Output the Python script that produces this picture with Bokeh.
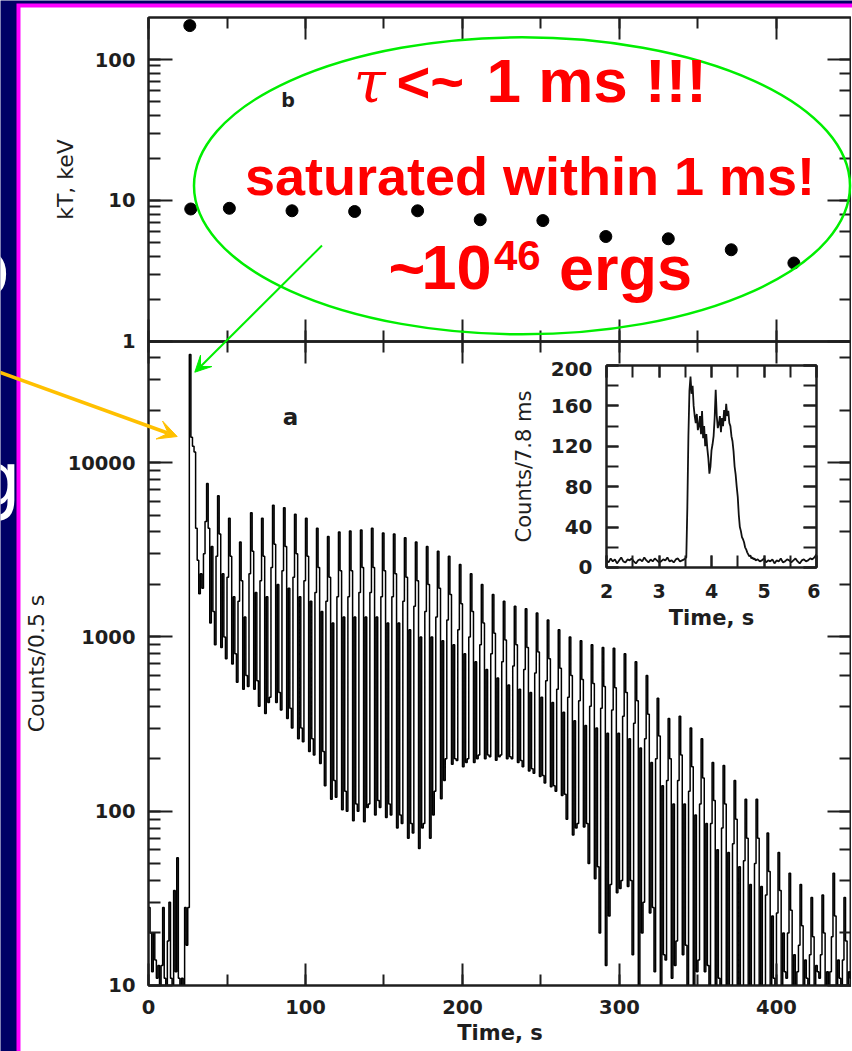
from bokeh.plotting import figure
from bokeh.models import (Range1d, LinearAxis, LogAxis, SingleIntervalTicker, LogTicker,
                          BasicTickFormatter, CustomJSTickFormatter, Arrow, VeeHead, Label)
from bokeh.embed import file_html
from bokeh.resources import INLINE

# ---------------- data ----------------
bin_width = 1.0   # s, one value per bin, starting at t = 0
counts_pre = [28, 20, 12, 20, 14, 11, 13, 5, 13, 28, 11, 5, 18, 30, 11, 5, 35, 12, 54, 11,
              5, 11, 5, 28, 17, 28]
counts_flare = [41700, 14000, 12400, 11500, 4200, 2750, 1770, 2300, 1900]
counts_pulses = [
    3000, 4600, 7600, 4200, 1200, 3300, 1400,
    900, 2900, 6450, 3900, 870, 2300, 1000,
    750, 2200, 4800, 2900, 700, 1700, 800,
    550, 1600, 3500, 2100, 500, 1300, 600,
    520, 2300, 5150, 3100, 500, 1800, 560,
    400, 2100, 4800, 2900, 363, 1700, 420,
    450, 2500, 5700, 3400, 420, 2000, 480,
    380, 2400, 5500, 3300, 340, 1900, 390,
    300, 2200, 5050, 3000, 260, 1700, 300,
    250, 2100, 4800, 2900, 220, 1600, 260,
    210, 1800, 4200, 2500, 188, 1400, 220,
    140, 1600, 3770, 2200, 117, 1200, 150,
    120, 1700, 4000, 2400, 102, 1300, 130,
    100, 1700, 4050, 2400, 88, 1300, 110,
    100, 1800, 4100, 2500, 87, 1300, 105,
    110, 1800, 4200, 2500, 95, 1300, 115,
    105, 1700, 3950, 2400, 92, 1200, 110,
    95, 1700, 3900, 2300, 80, 1200, 95,
    85, 1600, 3700, 2200, 70, 1100, 85,
    75, 1500, 3500, 2100, 61, 1000, 80,
    85, 1400, 3300, 2000, 70, 1000, 95,
    130, 1300, 3100, 1900, 118, 950, 150,
    200, 1250, 2900, 1750, 186, 900, 200,
    195, 1100, 2600, 1550, 180, 800, 190,
    200, 1000, 2300, 1400, 190, 720, 200,
    210, 900, 2000, 1200, 200, 650, 210,
    205, 800, 1750, 1050, 196, 580, 205,
    210, 720, 1600, 960, 200, 530, 205,
    200, 680, 1500, 900, 190, 500, 195,
    180, 650, 1450, 870, 170, 480, 175,
    165, 620, 1370, 820, 158, 450, 160,
    145, 560, 1250, 750, 138, 420, 140,
    130, 500, 1100, 660, 123, 370, 125,
    90, 450, 1000, 600, 73, 330, 80,
    85, 430, 950, 570, 81, 310, 85,
    50, 400, 900, 540, 41, 300, 48,
    20, 390, 870, 520, 13, 280, 25,
    38, 380, 860, 510, 34, 280, 36,
    40, 350, 800, 480, 37, 260, 40,
    15, 320, 720, 430, 5, 230, 20,
    30, 260, 600, 360, 26, 190, 28,
    12, 200, 445, 270, 5, 140, 15,
    14, 150, 340, 200, 11, 110, 13,
    18, 150, 350, 210, 15, 110, 17,
    10, 130, 300, 180, 5, 95, 12,
    14, 110, 260, 155, 12, 85, 13,
    9, 85, 190, 115, 5, 60, 11,
    8, 80, 183, 110, 5, 58, 10,
    10, 65, 150, 90, 8, 48, 9,
    8, 52, 117, 70, 5, 38, 9,
    9, 50, 117, 70, 5, 37, 8,
    10, 33, 75, 45, 5, 25, 11,
    9, 26, 58, 35, 5, 20, 12,
    11, 20, 44, 27, 5, 15, 10,
    12, 17, 38, 22, 5, 14, 11,
    10, 15, 32, 19, 5, 13, 12,
    11, 15, 33, 20, 5, 12, 10,
    12, 19, 44, 25, 5, 14, 11,
    10, 14, 32, 18, 5, 12, 11,
]

kt_time = [26.3, 26.9, 51.5, 91.4, 131.3, 171.4, 211.3, 251.2, 291.3, 331.1, 371.2, 411.1]
kt_kev = [174, 8.7, 8.8, 8.45, 8.35, 8.45, 7.3, 7.2, 5.55, 5.35, 4.47, 3.6]

inset_time = [2.00, 2.04, 2.08, 2.12, 2.16, 2.20, 2.24, 2.28, 2.32, 2.36, 2.40, 2.44, 2.48,
              2.52, 2.56, 2.60, 2.64, 2.68, 2.72, 2.76, 2.80, 2.84, 2.88, 2.92, 2.96, 3.00,
              3.04, 3.08, 3.12, 3.16, 3.20, 3.24, 3.28, 3.32, 3.36, 3.40, 3.44, 3.48,
              3.52, 3.54, 3.56, 3.58, 3.60, 3.62, 3.64, 3.66, 3.68, 3.70, 3.72, 3.74, 3.76,
              3.78, 3.80, 3.82, 3.84, 3.86, 3.88, 3.90, 3.92, 3.94, 3.96, 3.98, 4.00, 4.02,
              4.04, 4.06, 4.08, 4.10, 4.12, 4.14, 4.16, 4.18, 4.20, 4.22, 4.24, 4.26, 4.28,
              4.30, 4.32, 4.34, 4.36, 4.38, 4.40, 4.42, 4.44, 4.46, 4.48, 4.50, 4.52, 4.54,
              4.56, 4.58, 4.60, 4.62, 4.64, 4.66, 4.68, 4.70, 4.72, 4.74, 4.76, 4.78, 4.80,
              4.82, 4.84,
              4.88, 4.92, 4.96, 5.00, 5.04, 5.08, 5.12, 5.16, 5.20, 5.24, 5.28, 5.32, 5.36,
              5.40, 5.44, 5.48, 5.52, 5.56, 5.60, 5.64, 5.68, 5.72, 5.76, 5.80, 5.84, 5.88,
              5.92, 5.96, 6.00]
inset_counts = [7, 5, 9, 6, 8, 4, 7, 10, 6, 5, 8, 7, 9, 6, 4, 7, 8, 6, 10, 7, 5, 8, 6, 9, 7,
                5, 6, 8, 7, 10, 6, 7, 5, 8, 9, 6, 7, 8,
                10, 60, 130, 175, 189, 172, 180, 160, 150, 143,
                152, 136, 140, 150, 132, 155, 128, 140, 120, 132,
                118, 108, 93, 100, 116, 122, 130, 148, 176, 150,
                138, 142, 150, 134, 148, 140, 156, 145, 162, 150,
                155, 143, 140, 130, 125, 115, 100, 92, 80, 70,
                52, 40, 36, 30, 28, 25, 20, 18, 15, 13,
                11, 12, 9, 10, 8, 9, 7,
                8, 6, 7, 9, 5, 7, 6, 8, 4, 7, 6, 9, 5, 6, 8, 7, 5, 7, 9, 6, 4, 7, 8, 6,
                7, 9, 8, 10, 13]

# ---------------- styling constants ----------------
NAVY = "#000066"
MAGENTA = "#FF00FF"
GREEN = "#00EE00"
ORANGE = "#FFC000"
RED = "#FF0000"
AX = "#1e1e1e"
TICK_FONT = "DejaVu Sans"

X_LO, X_HI = -0.01, 447.8
BLANK = CustomJSTickFormatter(code="return ''")


def style_axis(ax, labels=True, major_in=22, minor_in=11, size="19.5px", standoff=13):
    ax.axis_line_color = AX
    ax.axis_line_width = 2
    ax.major_tick_line_color = AX
    ax.major_tick_line_width = 2
    ax.minor_tick_line_color = AX
    ax.minor_tick_line_width = 2
    ax.major_tick_in = major_in
    ax.major_tick_out = 0
    ax.minor_tick_in = minor_in
    ax.minor_tick_out = 0
    ax.major_label_text_font = TICK_FONT
    ax.major_label_text_font_style = "bold"
    ax.major_label_text_color = AX
    if labels:
        ax.major_label_text_font_size = size
        ax.major_label_standoff = standoff
    else:
        ax.formatter = BLANK
        ax.major_label_text_font_size = "1px"
        ax.major_label_standoff = 0
    ax.axis_label_text_font = TICK_FONT
    ax.axis_label_text_color = AX


def abs_pos(left, top):
    return {"position": "absolute", "left": f"{left}px", "top": f"{top}px"}


# ---------------- background page ----------------
bg = figure(x_range=Range1d(0, 852), y_range=Range1d(1051, 0), frame_width=852, frame_height=1051,
            min_border=0, x_axis_location=None, y_axis_location=None,
            toolbar_location=None, output_backend="svg")
bg.background_fill_color = NAVY
bg.border_fill_color = NAVY
bg.outline_line_color = None
bg.grid.visible = False
bg.quad(left=[16], right=[900], top=[3], bottom=[1100], fill_color=MAGENTA, line_color=None)
bg.quad(left=[20], right=[900], top=[7], bottom=[1100], fill_color="white", line_color=None)
bg.add_layout(Label(x=-39, y=268, text="o", text_color="white", text_font=TICK_FONT,
                    text_font_size="80px", text_baseline="middle"))
bg.add_layout(Label(x=-27, y=478, text="g", text_color="white", text_font=TICK_FONT,
                    text_font_size="75px", text_baseline="middle"))
bg.styles = abs_pos(0, 0)

# ---------------- top panel: kT ----------------
p_top = figure(x_range=Range1d(X_LO, X_HI), y_range=Range1d(0.999, 198.6), y_axis_type="log",
               frame_width=703, frame_height=324, min_border_left=128, min_border_right=0,
               min_border_top=10, min_border_bottom=16, toolbar_location=None,
               output_backend="svg")
p_top.border_fill_alpha = 0
p_top.background_fill_color = None
p_top.outline_line_color = AX
p_top.outline_line_width = 2
p_top.grid.visible = False
p_top.xaxis.ticker = SingleIntervalTicker(interval=100, num_minor_ticks=2)
style_axis(p_top.xaxis[0], labels=False)
ya = p_top.yaxis[0]
ya.formatter = BasicTickFormatter(use_scientific=False)
style_axis(ya, labels=True, major_in=24, minor_in=12)
ya.axis_label = "kT, keV"
ya.axis_label_text_font_size = "22px"
ya.axis_label_text_font_style = "normal"
ya.axis_label_standoff = 14
top_ax = LinearAxis(ticker=SingleIntervalTicker(interval=100, num_minor_ticks=2))
style_axis(top_ax, labels=False)
p_top.add_layout(top_ax, "above")
right_ax = LogAxis(ticker=LogTicker())
style_axis(right_ax, labels=False, major_in=24, minor_in=12)
p_top.add_layout(right_ax, "right")
p_top.scatter(kt_time, kt_kev, size=12, color="black")
p_top.styles = abs_pos(20, 7)

# ---------------- bottom panel: counts ----------------
n_bins = len(counts_pre) + len(counts_flare) + len(counts_pulses)
counts = counts_pre + counts_flare + counts_pulses
step_x = [i * bin_width for i in range(n_bins + 1)]
step_y = counts + [counts[-1]]

p_bot = figure(x_range=Range1d(X_LO, X_HI), y_range=Range1d(9.99, 49550), y_axis_type="log",
               frame_width=703, frame_height=644, min_border_left=128, min_border_right=0,
               min_border_top=10, min_border_bottom=66, toolbar_location=None,
               output_backend="svg")
p_bot.border_fill_alpha = 0
p_bot.background_fill_color = None
p_bot.outline_line_color = AX
p_bot.outline_line_width = 2
p_bot.grid.visible = False
xa = p_bot.xaxis[0]
xa.ticker = SingleIntervalTicker(interval=100, num_minor_ticks=2)
style_axis(xa, labels=True, standoff=14)
xa.axis_label = "Time, s"
xa.axis_label_text_font_size = "21px"
xa.axis_label_text_font_style = "bold"
xa.axis_label_standoff = 4
yb = p_bot.yaxis[0]
yb.formatter = BasicTickFormatter(use_scientific=False)
style_axis(yb, labels=True, major_in=24, minor_in=12)
yb.axis_label = "Counts/0.5 s"
yb.axis_label_text_font_size = "22px"
yb.axis_label_text_font_style = "normal"
yb.axis_label_standoff = 16
top_ax2 = LinearAxis(ticker=SingleIntervalTicker(interval=100, num_minor_ticks=2))
style_axis(top_ax2, labels=False)
p_bot.add_layout(top_ax2, "above")
right_ax2 = LogAxis(ticker=LogTicker())
style_axis(right_ax2, labels=False, major_in=24, minor_in=12)
p_bot.add_layout(right_ax2, "right")
p_bot.step(step_x, step_y, mode="after", color="black", line_width=1.5)
p_bot.styles = abs_pos(20, 331)

# ---------------- inset ----------------
p_in = figure(x_range=Range1d(2, 6), y_range=Range1d(-0.01, 200), frame_width=210,
              frame_height=202, min_border_left=110, min_border_right=4, min_border_top=4,
              min_border_bottom=66, toolbar_location=None, output_backend="svg")
p_in.border_fill_alpha = 0
p_in.background_fill_color = "white"
p_in.outline_line_color = AX
p_in.outline_line_width = 2
p_in.grid.visible = False
ix = p_in.xaxis[0]
ix.ticker = SingleIntervalTicker(interval=1, num_minor_ticks=2)
style_axis(ix, labels=True, major_in=12, minor_in=12, size="19px", standoff=16)
ix.axis_label = "Time, s"
ix.axis_label_text_font_size = "21px"
ix.axis_label_text_font_style = "bold"
ix.axis_label_standoff = 5
iy = p_in.yaxis[0]
iy.ticker = SingleIntervalTicker(interval=40, num_minor_ticks=2)
style_axis(iy, labels=True, major_in=12, minor_in=12, size="20px", standoff=14)
iy.axis_label = "Counts/7.8 ms"
iy.axis_label_text_font_size = "21px"
iy.axis_label_text_font_style = "normal"
iy.axis_label_standoff = 12
it_ax = LinearAxis(ticker=SingleIntervalTicker(interval=1, num_minor_ticks=2))
style_axis(it_ax, labels=False, major_in=12, minor_in=12)
p_in.add_layout(it_ax, "above")
ir_ax = LinearAxis(ticker=SingleIntervalTicker(interval=40, num_minor_ticks=2))
style_axis(ir_ax, labels=False, major_in=13, minor_in=13)
p_in.add_layout(ir_ax, "right")
p_in.line(inset_time, inset_counts, color="#111111", line_width=1.8)
p_in.styles = abs_pos(496, 361)

# ---------------- overlay annotations (page pixel coordinates) ----------------
ov = figure(x_range=Range1d(0, 852), y_range=Range1d(1051, 0), frame_width=852, frame_height=1051,
            min_border=0, x_axis_location=None, y_axis_location=None,
            toolbar_location=None, output_backend="svg")
ov.background_fill_alpha = 0
ov.border_fill_alpha = 0
ov.outline_line_color = None
ov.grid.visible = False
ov.styles = abs_pos(0, 0)

ov.ellipse(x=[521.5], y=[185.3], width=[656], height=[297], fill_color=None,
           line_color=GREEN, line_width=2.5)
ov.add_layout(Arrow(end=VeeHead(size=16, fill_color=GREEN, line_color=GREEN, line_width=1),
                    x_start=321.5, y_start=245, x_end=194.3, y_end=371.7,
                    line_color=GREEN, line_width=2))
ov.add_layout(Arrow(end=VeeHead(size=19, fill_color=ORANGE, line_color=ORANGE, line_width=1),
                    x_start=-2, y_start=371.3, x_end=176.7, y_end=436,
                    line_color=ORANGE, line_width=3.5))

BASE_SHIFT = 0.39   # em; alphabetic anchor correction for labels on the flipped page range


def red(x, y, text, size, font="Liberation Sans", style="bold"):
    ov.add_layout(Label(x=x, y=y - BASE_SHIFT * size, text=text, text_color=RED,
                        text_font=font, text_font_size=f"{size}px", text_font_style=style,
                        text_baseline="alphabetic"))


red(353, 104, "τ", 58, font="DejaVu Serif", style="italic")
red(396, 104, "<~", 58)
red(486, 104, "1 ms !!!", 62)
red(244.4, 196.7, "saturated within 1 ms!", 54)
red(388, 291.7, "~", 63)
red(421, 291.7, "10", 63)
red(493.5, 271.7, "46", 42)
red(558.5, 291.7, "ergs", 63)

for txt, x, y, sz in [("b", 287.5, 99, "19px"), ("a", 290, 416, "23px")]:
    ov.add_layout(Label(x=x, y=y, text=txt, text_color=AX, text_font=TICK_FONT,
                        text_font_size=sz, text_font_style="bold",
                        text_align="center", text_baseline="middle"))

open("out.html", "w").write(file_html([bg, p_top, p_bot, p_in, ov], INLINE))
